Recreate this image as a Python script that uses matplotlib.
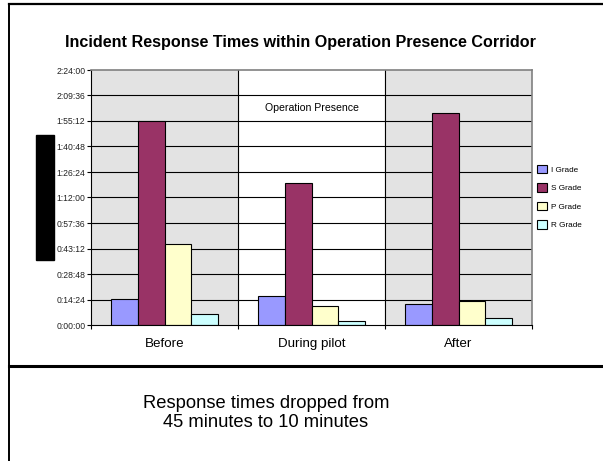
import numpy as np
import matplotlib.pyplot as plt
from matplotlib.patches import Rectangle
from matplotlib.lines import Line2D

# response times in minutes
periods = ['Before', 'During pilot', 'After']
grades = ['I Grade', 'S Grade', 'P Grade', 'R Grade']
i_grade = [14.7, 16.2, 11.6]
s_grade = [115.4, 80.2, 119.7]
p_grade = [45.7, 10.5, 13.6]
r_grade = [6.2, 2.3, 3.7]
colors = ['#9999FF', '#993366', '#FFFFCC', '#CCFFFF']
tick_labels = ['0:00:00', '0:14:24', '0:28:48', '0:43:12', '0:57:36', '1:12:00',
               '1:26:24', '1:40:48', '1:55:12', '2:09:36', '2:24:00']

plt.rcParams['font.family'] = ['Liberation Sans', 'DejaVu Sans']

fig = plt.figure(figsize=(6.03, 4.61), dpi=100)
ax = fig.add_axes([91/603, 1-325/461, 441/603, 255/461])

x = np.arange(len(periods))
w = 0.182
series = [i_grade, s_grade, p_grade, r_grade]

ax.set_xlim(-0.5, 2.5)
ax.set_ylim(0, 144)

# shaded periods
ax.axvspan(-0.5, 0.5, color='#E3E3E3', zorder=0)
ax.axvspan(1.5, 2.5, color='#E3E3E3', zorder=0)
yt = np.arange(0, 144.1, 14.4)
for y in yt[1:-1]:
    ax.axhline(y, color='black', lw=0.8, zorder=1)
ax.axvline(0.5, color='black', lw=0.8, zorder=1)
ax.axvline(1.5, color='black', lw=0.8, zorder=1)

handles = []
for k, vals in enumerate(series):
    b = ax.bar(x + (k - 1.5) * w, vals, w, color=colors[k], edgecolor='black',
               linewidth=0.8, zorder=2, label=grades[k])
    handles.append(b)

ax.text(1, 122.5, 'Operation Presence', ha='center', va='center', fontsize=7.6)

ax.set_yticks(yt)
ax.set_yticklabels(tick_labels, fontsize=6.2, color='#222222')
ax.set_xticks([-0.5, 0.5, 1.5, 2.5], minor=False)
ax.set_xticklabels([])
ax.set_xticks(x, minor=True)
ax.set_xticklabels(periods, minor=True, fontsize=9.6)
ax.tick_params(axis='x', which='minor', length=0, pad=9)
ax.tick_params(axis='x', which='major', length=3, width=0.8, direction='out')
ax.tick_params(axis='y', length=3, width=0.8, direction='out', pad=1)
for s in ['top', 'right']:
    ax.spines[s].set_color('#808080')
    ax.spines[s].set_linewidth(1.2)
ax.spines['left'].set_linewidth(0.8)
ax.spines['bottom'].set_linewidth(0.8)

fig.legend(handles=handles, loc='center left', bbox_to_anchor=(537/603, 1-197/461),
           frameon=False, fontsize=5.9, handlelength=1.25, handleheight=1.25,
           labelspacing=1.15, handletextpad=0.5, borderpad=0, borderaxespad=0)

fig.text(300/603, 1-43/461, 'Incident Response Times within Operation Presence Corridor',
         ha='center', va='center', fontsize=11.6, fontweight='bold')

# redacted axis label
fig.patches.append(Rectangle((36/603, 1-260/461), 18/603, 125/461,
                             transform=fig.transFigure, color='black'))

# slide frame
fig.add_artist(Line2D([9/603, 1], [1-4/461, 1-4/461], color='black', lw=1.6))
fig.add_artist(Line2D([9/603, 9/603], [0, 1-4/461], color='black', lw=1.4))
fig.add_artist(Line2D([9/603, 1], [1-366/461, 1-366/461], color='black', lw=2.2))

fig.text(266/603, 1-413/461, 'Response times dropped from\n45 minutes to 10 minutes',
         ha='center', va='center', fontsize=13.2, linespacing=1.2)

plt.savefig('out.png', dpi=100)
